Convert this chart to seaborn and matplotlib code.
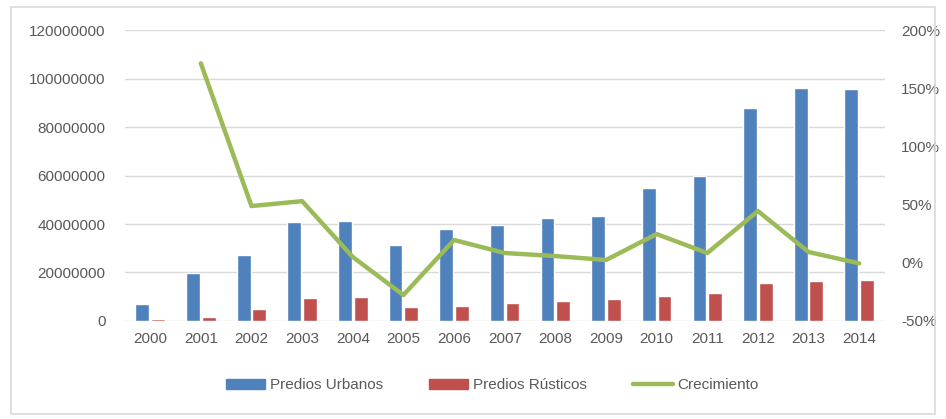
import numpy as np
import pandas as pd
import matplotlib
matplotlib.use('Agg')
import matplotlib.pyplot as plt
from matplotlib.lines import Line2D
from matplotlib.patches import Patch, Rectangle
from matplotlib.ticker import PercentFormatter, FuncFormatter
import seaborn as sns

years = [str(y) for y in range(2000, 2015)]
urbanos = [7.0e6, 19.8e6, 27.3e6, 40.8e6, 41.2e6, 31.3e6, 38.0e6, 39.6e6,
           42.5e6, 43.3e6, 54.8e6, 59.8e6, 87.8e6, 96.0e6, 95.7e6]
rusticos = [0.8e6, 1.7e6, 5.0e6, 9.5e6, 9.9e6, 5.8e6, 6.2e6, 7.5e6,
            8.3e6, 9.0e6, 10.3e6, 11.5e6, 15.6e6, 16.4e6, 16.9e6]
crecimiento = [np.nan, 171.5, 48.8, 53.0, 5.0, -27.7, 19.6, 8.4,
               5.8, 2.4, 24.7, 8.4, 44.5, 9.3, -0.5]

BLUE, RED, GREEN = '#4F81BD', '#C0504D', '#9BBB59'
TXT = '#595959'

sns.set_style('white')
plt.rcParams['font.family'] = ['Liberation Sans', 'DejaVu Sans']
plt.rcParams['axes.unicode_minus'] = False

df = pd.DataFrame({'year': years * 2,
                   'valor': urbanos + rusticos,
                   'serie': ['Predios Urbanos'] * len(years) + ['Predios Rústicos'] * len(years)})

fig = plt.figure(figsize=(9.46, 4.19), dpi=100)
ax = fig.add_axes([0.132, 0.234, 0.803, 0.694])

sns.barplot(data=df, x='year', y='valor', hue='serie', palette=[BLUE, RED],
            width=0.62, gap=0.12, ax=ax, legend=False, saturation=1)
ax.set_ylim(0, 120e6)
ax.set_yticks(np.arange(0, 120e6 + 1, 20e6))
ax.yaxis.set_major_formatter(FuncFormatter(lambda v, p: f'{int(v)}'))
ax.yaxis.grid(True, color='#D9D9D9', linewidth=1)
ax.set_axisbelow(True)
ax.set_xlabel('')
ax.set_ylabel('')
ax.set_xlim(-0.5, len(years) - 0.5)
for s in ax.spines.values():
    s.set_visible(False)
ax.tick_params(axis='both', length=0, colors=TXT, labelsize=11)
ax.tick_params(axis='y', pad=14)
ax.tick_params(axis='x', pad=8)

ax2 = ax.twinx()
sns.lineplot(x=np.arange(len(years)), y=crecimiento, color=GREEN, linewidth=3.2,
             ax=ax2)
ax2.set_ylim(-50, 200)
ax2.set_yticks(np.arange(-50, 201, 50))
ax2.yaxis.set_major_formatter(PercentFormatter(decimals=0))
ax2.grid(False)
for s in ax2.spines.values():
    s.set_visible(False)
ax2.tick_params(axis='y', length=0, colors=TXT, labelsize=11, pad=12)

handles = [Patch(color=BLUE, label='Predios Urbanos'),
           Patch(color=RED, label='Predios Rústicos'),
           Line2D([0], [0], color=GREEN, linewidth=3.2, label='Crecimiento')]
leg = fig.legend(handles=handles, loc='center', bbox_to_anchor=(0.52, 0.08), ncol=3,
                 frameon=False, fontsize=11, handlelength=2.6, handleheight=0.6,
                 columnspacing=3.0, handletextpad=0.3)
for t in leg.get_texts():
    t.set_color(TXT)

fig.patches.append(Rectangle((0.012, 0.012), 0.976, 0.972, transform=fig.transFigure,
                             fill=False, edgecolor='#D9D9D9', linewidth=1.2))

fig.savefig('out.png', dpi=100)
